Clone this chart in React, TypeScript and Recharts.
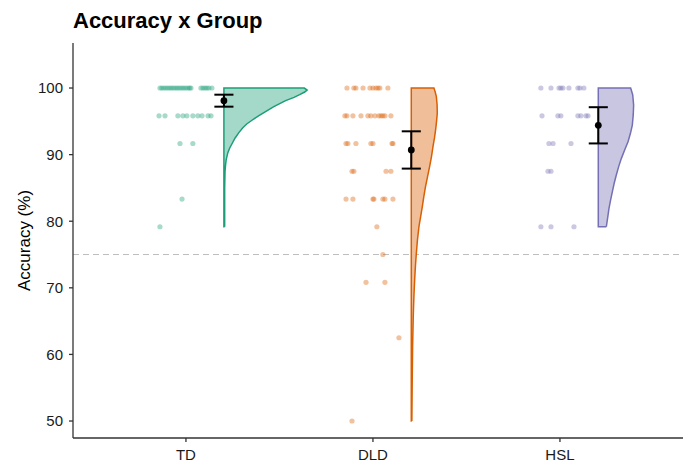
import {
  ComposedChart,
  Scatter,
  XAxis,
  YAxis,
  ReferenceLine,
} from 'recharts';

const groups = ['TD', 'DLD', 'HSL'];
const strokeColors = ['#1b9e77', '#d95f02', '#7570b3'];
const fillColors = ['#a4d8c9', '#f0bf9a', '#c8c6e1'];

// jittered raw scores (x = jittered group position, y = accuracy %)
const tdX = [0.861, 0.871, 0.882, 0.893, 0.904, 0.915, 0.925, 0.936, 0.947, 0.957, 0.968, 0.979, 0.989, 1.0, 1.011, 1.02, 1.027, 1.08, 1.091, 1.102, 1.112, 1.123, 1.139,
  0.856, 0.888, 0.957, 0.984, 1.005, 1.037, 1.064, 1.086, 1.118, 1.134,
  0.968, 1.037, 0.979, 0.861];
const tdY = [100, 100, 100, 100, 100, 100, 100, 100, 100, 100, 100, 100, 100, 100, 100, 100, 100, 100, 100, 100, 100, 100, 100,
  95.83, 95.83, 95.83, 95.83, 95.83, 95.83, 95.83, 95.83, 95.83, 95.83,
  91.67, 91.67, 83.33, 79.17];

const dldX = [1.861, 1.898, 1.909, 1.947, 1.984, 2.0, 2.016, 2.027, 2.037, 2.08,
  1.85, 1.861, 1.893, 1.936, 1.973, 1.989, 2.011, 2.032, 2.043, 2.053, 2.064, 2.096,
  1.856, 1.866, 1.909, 1.989, 2.0, 2.102, 2.107,
  1.888, 1.898, 2.07, 2.096,
  1.856, 1.893, 2.0, 2.005, 2.053, 2.064, 2.107,
  2.021, 2.053, 1.963, 2.064, 2.139, 1.888];
const dldY = [100, 100, 100, 100, 100, 100, 100, 100, 100, 100,
  95.83, 95.83, 95.83, 95.83, 95.83, 95.83, 95.83, 95.83, 95.83, 95.83, 95.83, 95.83,
  91.67, 91.67, 91.67, 91.67, 91.67, 91.67, 91.67,
  87.5, 87.5, 87.5, 87.5,
  83.33, 83.33, 83.33, 83.33, 83.33, 83.33, 83.33,
  79.17, 75, 70.83, 70.83, 62.5, 50];

const hslX = [2.898, 2.952, 2.995, 3.005, 3.016, 3.048, 3.096, 3.107, 3.128,
  2.904, 2.989, 3.005, 3.096, 3.112, 3.139, 3.15,
  2.941, 2.963, 3.059,
  2.936, 2.952,
  2.898, 2.952, 3.075];
const hslY = [100, 100, 100, 100, 100, 100, 100, 100, 100,
  95.83, 95.83, 95.83, 95.83, 95.83, 95.83, 95.83,
  91.67, 91.67, 91.67,
  87.5, 87.5,
  79.17, 79.17, 79.17];

// half-violin outlines: accuracy levels and half widths (in group units)
const tdViolinY = [79.17, 82, 85, 87.5, 88.5, 89.2, 90.3, 91, 91.67, 92.5, 93.3, 94, 94.6, 95.2, 95.83, 96.5, 97.2, 98.1, 98.6, 99, 99.4, 99.7, 100];
const tdViolinW = [0.004, 0.004, 0.004, 0.006, 0.009, 0.012, 0.021, 0.031, 0.044, 0.06, 0.08, 0.1, 0.122, 0.152, 0.185, 0.225, 0.267, 0.33, 0.375, 0.405, 0.432, 0.445, 0.43];
const dldViolinY = [50, 53, 56.2, 58.7, 61.2, 63.7, 66.2, 68.7, 71.2, 73.2, 75.2, 77.2, 79.2, 80.7, 82.2, 83.7, 85.2, 86.7, 88.2, 89.7, 91.2, 92.5, 93.7, 95, 96.2, 97.5, 98.7, 99.4, 100];
const dldViolinW = [0.003, 0.004, 0.005, 0.006, 0.007, 0.009, 0.011, 0.014, 0.018, 0.022, 0.027, 0.033, 0.041, 0.05, 0.059, 0.067, 0.076, 0.087, 0.098, 0.108, 0.116, 0.124, 0.13, 0.135, 0.139, 0.138, 0.134, 0.128, 0.121];
const hslViolinY = [79.17, 80.5, 81.9, 83.2, 84.4, 85.7, 86.9, 88.2, 89.4, 90.7, 91.94, 93.2, 94.44, 96, 97.45, 99, 100];
const hslViolinW = [0.043, 0.05, 0.057, 0.066, 0.075, 0.085, 0.096, 0.109, 0.123, 0.141, 0.159, 0.172, 0.182, 0.187, 0.189, 0.184, 0.173];

// group means with error (SE)
const meanX = [1.203, 2.205, 3.205];
const meanY = [98.1, 90.7, 94.4];
const meanErr = [0.9, 2.8, 2.72];
const capHalf = 0.051;

const toPoints = (xs: number[], ys: number[]) => xs.map((x, i) => ({ x, y: ys[i] }));

const violinOutline = (left: number, ys: number[], ws: number[]) => {
  const right = ys.map((y, i) => ({ x: left + ws[i], y }));
  return [
    ...right,
    { x: left, y: ys[ys.length - 1] },
    { x: left, y: ys[0] },
    right[0],
  ];
};

const rawSets = [toPoints(tdX, tdY), toPoints(dldX, dldY), toPoints(hslX, hslY)];
const violins = [
  violinOutline(meanX[0], tdViolinY, tdViolinW),
  violinOutline(meanX[1], dldViolinY, dldViolinW),
  violinOutline(meanX[2], hslViolinY, hslViolinW),
];
const means = meanX.map((x, i) => ({ x, y: meanY[i] }));

// error bar segments: vertical whisker + two caps per group
const errorSegments = meanX.flatMap((x, i) => {
  const lo = meanY[i] - meanErr[i];
  const hi = meanY[i] + meanErr[i];
  return [
    [{ x, y: lo }, { x, y: hi }],
    [{ x: x - capHalf, y: lo }, { x: x + capHalf, y: lo }],
    [{ x: x - capHalf, y: hi }, { x: x + capHalf, y: hi }],
  ];
});

const font = 'Liberation Sans, Arial, Helvetica, sans-serif';

export default function App() {
  return (
    <div style={{ position: 'absolute', left: 0, top: 0, width: 687, height: 463, background: '#fff' }}>
      <div
        style={{
          position: 'absolute',
          left: 73,
          top: 10,
          fontFamily: font,
          fontWeight: 'bold',
          fontSize: 22,
          lineHeight: '22px',
          color: '#000',
        }}
      >
        Accuracy x Group
      </div>
      <ComposedChart width={687} height={463} margin={{ top: 43, right: 4, bottom: 0, left: 0 }}>
        <XAxis
          type="number"
          dataKey="x"
          domain={[0.396, 3.658]}
          allowDataOverflow
          ticks={[1, 2, 3]}
          tickFormatter={(v) => groups[v - 1]}
          height={25}
          tickSize={4}
          tickMargin={7}
          stroke="#333"
          strokeWidth={1.3}
          tick={{ fill: '#1a1a1a', fontSize: 15, fontFamily: font }}
        />
        <YAxis
          type="number"
          dataKey="y"
          domain={[47.45, 106.76]}
          allowDataOverflow
          ticks={[50, 60, 70, 80, 90, 100]}
          width={73}
          tickSize={4}
          tickMargin={6}
          stroke="#333"
          strokeWidth={1.3}
          tick={{ fill: '#1a1a1a', fontSize: 15, fontFamily: font }}
          label={{
            value: 'Accuracy (%)',
            angle: -90,
            position: 'insideLeft',
            offset: 24,
            style: { textAnchor: 'middle', fill: '#000', fontSize: 17, fontFamily: font },
          }}
        />
        <ReferenceLine y={75} stroke="#bdbdbd" strokeDasharray="6 4" strokeWidth={1} />

        {violins.map((pts, i) => (
          <Scatter
            key={'v' + i}
            data={pts}
            isAnimationActive={false}
            line={{ stroke: strokeColors[i], strokeWidth: 1.5, fill: fillColors[i] }}
            lineJointType="linear"
            shape={() => <g />}
          />
        ))}

        {rawSets.map((pts, i) => (
          <Scatter
            key={'p' + i}
            data={pts}
            isAnimationActive={false}
            shape={(p: any) => (
              <circle cx={p.cx} cy={p.cy} r={2.6} fill={strokeColors[i]} fillOpacity={0.38} />
            )}
          />
        ))}

        {errorSegments.map((seg, i) => (
          <Scatter
            key={'e' + i}
            data={seg}
            isAnimationActive={false}
            line={{ stroke: '#000', strokeWidth: 2, fill: 'none' }}
            shape={() => <g />}
          />
        ))}

        <Scatter
          data={means}
          isAnimationActive={false}
          shape={(p: any) => <circle cx={p.cx} cy={p.cy} r={3.4} fill="#000" />}
        />
      </ComposedChart>
    </div>
  );
}
